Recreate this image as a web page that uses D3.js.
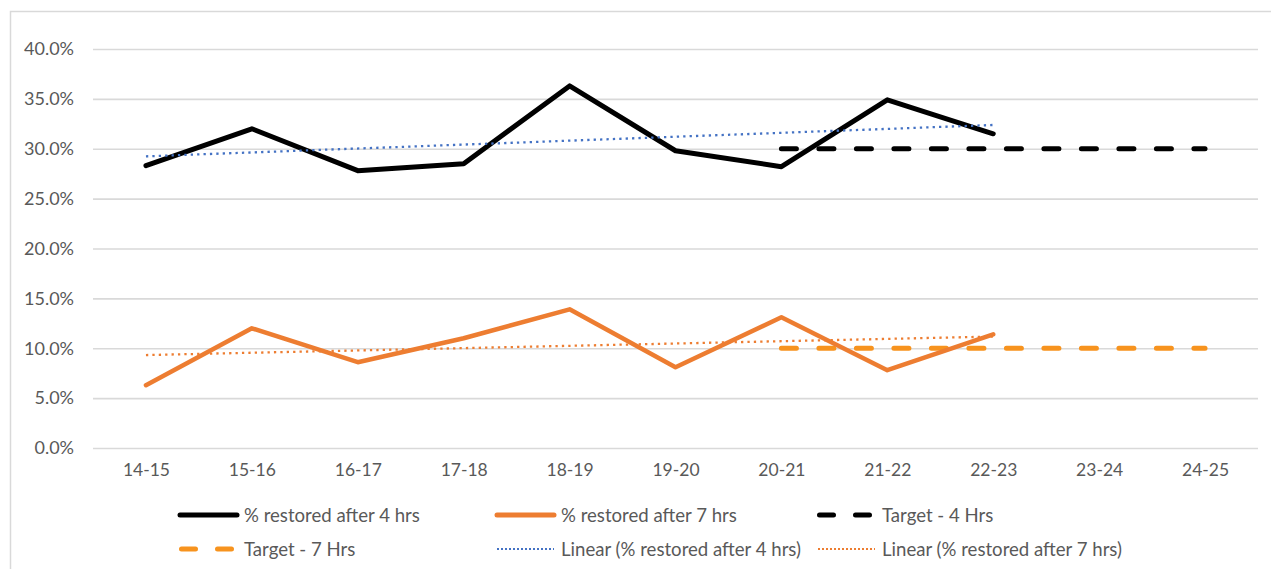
<!DOCTYPE html>
<html>
<head>
<meta charset="utf-8">
<script src="https://cdn.jsdelivr.net/npm/d3@7/dist/d3.min.js"></script>
<style>
  html, body { margin: 0; padding: 0; background: #fff; }
  svg { display: block; }
  text { font-family: Lato, "Liberation Sans", sans-serif; fill: #595959; }
</style>
</head>
<body>
<svg id="chart" width="1271" height="569"></svg>
<script>
// Financial years on the x axis
const years = ["14-15", "15-16", "16-17", "17-18", "18-19", "19-20", "20-21", "21-22", "22-23", "23-24", "24-25"];

// Share of supplies restored after 4 and 7 hours (percent)
const restored4 = [28.3, 32.0, 27.8, 28.5, 36.3, 29.8, 28.2, 34.9, 31.5];
const restored7 = [6.3, 12.0, 8.6, 11.0, 13.9, 8.1, 13.1, 7.8, 11.4];

// Targets, defined from 20-21 onwards
const targetYears = ["20-21", "21-22", "22-23", "23-24", "24-25"];
const target4 = [30, 30, 30, 30, 30];
const target7 = [10, 10, 10, 10, 10];

// Y axis ticks
const yTicks = [0, 5, 10, 15, 20, 25, 30, 35, 40];

const svg = d3.select("#chart");
const W = 1271, H = 569;

// Outer chart frame
svg.append("rect")
  .attr("x", 10.5).attr("y", 11.5)
  .attr("width", W).attr("height", H)
  .attr("fill", "none").attr("stroke", "#D9D9D9").attr("stroke-width", 1.5);

const x = d3.scalePoint().domain(years).range([93, 1258]).padding(0.5);
const y = d3.scaleLinear().domain([0, 40]).range([448, 49]);

// Gridlines
const grid = d3.axisLeft(y).tickValues(yTicks).tickSize(-(1258 - 93)).tickFormat("");
svg.append("g")
  .attr("transform", "translate(93,0)")
  .call(grid)
  .call(g => g.select(".domain").remove())
  .call(g => g.selectAll("line").attr("stroke", "#D9D9D9").attr("stroke-width", 1.6));

// Y labels
const yAxis = d3.axisLeft(y).tickValues(yTicks).tickSize(0).tickPadding(19)
  .tickFormat(d => d.toFixed(1) + "%");
svg.append("g")
  .attr("transform", "translate(93,0)")
  .call(yAxis)
  .call(g => g.select(".domain").remove())
  .call(g => g.selectAll("text").attr("font-size", "18px").style("font-family", "Lato, sans-serif").attr("fill", "#595959"));

// X labels
const xAxis = d3.axisBottom(x).tickSize(0).tickPadding(16);
svg.append("g")
  .attr("transform", "translate(0,448)")
  .call(xAxis)
  .call(g => g.select(".domain").remove())
  .call(g => g.selectAll("text").attr("font-size", "17.5px").style("font-family", "Lato, sans-serif").attr("fill", "#595959"));

// Least-squares trend over the observed years
function trend(vals) {
  const n = vals.length;
  const xs = d3.range(n);
  const mx = d3.mean(xs), my = d3.mean(vals);
  const sxy = d3.sum(xs, (xi, i) => (xi - mx) * (vals[i] - my));
  const sxx = d3.sum(xs, xi => (xi - mx) * (xi - mx));
  const b = sxy / sxx, a = my - b * mx;
  return [a, a + b * (n - 1)];
}

const line = d3.line().x(d => x(d[0])).y(d => y(d[1]));

const series = [
  { key: "t4", data: targetYears.map((yr, i) => [yr, target4[i]]), color: "#000000", width: 5, dash: "15,22.5", cap: "round" },
  { key: "t7", data: targetYears.map((yr, i) => [yr, target7[i]]), color: "#F7931E", width: 5, dash: "15,22.5", cap: "round" },
  { key: "r4", data: restored4.map((v, i) => [years[i], v]), color: "#000000", width: 5, dash: null, cap: "round" },
  { key: "r7", data: restored7.map((v, i) => [years[i], v]), color: "#ED7D31", width: 4.5, dash: null, cap: "round" }
];

const tr4 = trend(restored4), tr7 = trend(restored7);
const trends = [
  { data: [[years[0], tr4[0]], [years[restored4.length - 1], tr4[1]]], color: "#4472C4" },
  { data: [[years[0], tr7[0]], [years[restored7.length - 1], tr7[1]]], color: "#ED7D31" }
];

svg.append("g").selectAll("path").data(series.slice(0, 2)).join("path")
  .attr("d", d => line(d.data))
  .attr("fill", "none").attr("stroke", d => d.color).attr("stroke-width", d => d.width)
  .attr("stroke-dasharray", d => d.dash).attr("stroke-linecap", d => d.cap);

svg.append("g").selectAll("path").data(series.slice(2)).join("path")
  .attr("d", d => line(d.data))
  .attr("fill", "none").attr("stroke", d => d.color).attr("stroke-width", d => d.width)
  .attr("stroke-linejoin", "round").attr("stroke-linecap", d => d.cap);

svg.append("g").selectAll("path").data(trends).join("path")
  .attr("d", d => line(d.data))
  .attr("fill", "none").attr("stroke", d => d.color).attr("stroke-width", 2.3)
  .attr("stroke-dasharray", "2.3,4.1");

// Legend
const legendItems = [
  { label: "% restored after 4 hrs", color: "#000000", width: 5, dash: null, row: 0, col: 0 },
  { label: "% restored after 7 hrs", color: "#ED7D31", width: 5, dash: null, row: 0, col: 1 },
  { label: "Target - 4 Hrs", color: "#000000", width: 5, dash: "14,22", row: 0, col: 2 },
  { label: "Target - 7 Hrs", color: "#F7931E", width: 5, dash: "14,22", row: 1, col: 0 },
  { label: "Linear (% restored after 4 hrs)", color: "#4472C4", width: 2, dash: "2,2", row: 1, col: 1 },
  { label: "Linear (% restored after 7 hrs)", color: "#ED7D31", width: 2, dash: "2,2", row: 1, col: 2 }
];
const colX = [179, 496, 817];
const rowY = [515, 549];

const lg = svg.append("g").selectAll("g").data(legendItems).join("g")
  .attr("transform", d => `translate(${colX[d.col]},${rowY[d.row]})`);
lg.append("line")
  .attr("x1", d => d.dash && d.width > 3 ? 2.5 : 1).attr("x2", d => d.dash && d.width > 3 ? 56.5 : 58)
  .attr("y1", 0).attr("y2", 0)
  .attr("stroke", d => d.color).attr("stroke-width", d => d.width)
  .attr("stroke-dasharray", d => d.dash)
  .attr("stroke-linecap", d => d.dash && d.width < 3 ? "butt" : "round");
lg.append("text")
  .attr("x", 65)
  .attr("y", 0).attr("dy", "0.35em")
  .attr("font-size", "18.6px")
  .text(d => d.label);
</script>
</body>
</html>
